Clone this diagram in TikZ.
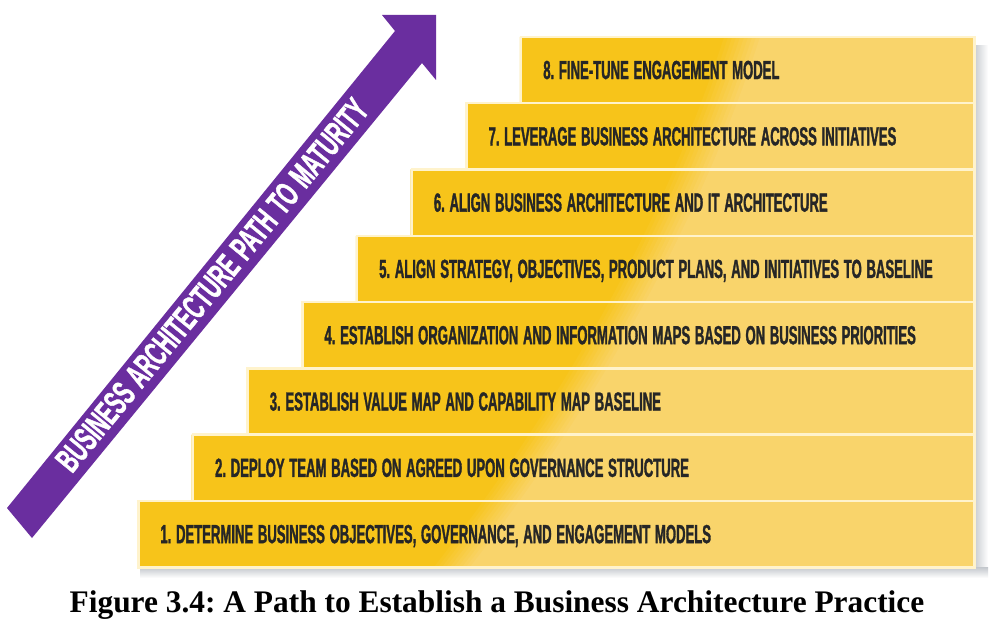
\documentclass[tikz,border=0pt]{standalone}
\usepackage{fontspec}
\setmainfont{Liberation Serif}
\newfontfamily\stepfont[FakeStretch=0.5,WordSpace=1.3,FakeBold=1.2]{Liberation Sans Bold}
\newfontfamily\pathfont[FakeStretch=0.575,WordSpace=1.3,FakeBold=1.2]{Liberation Sans Bold}
\newfontfamily\capfont{Liberation Serif Bold}
\definecolor{stairdeep}{HTML}{F7C41A}
\definecolor{stairlight}{HTML}{F9D46B}
\definecolor{stairedge}{HTML}{FFF3CC}
\definecolor{inkdark}{HTML}{262626}
\definecolor{pathpurple}{HTML}{6A2E9F}
\definecolor{shadowgray}{HTML}{C3C7CC}
\frenchspacing

\begin{document}
\begin{tikzpicture}[x=0.5pt,y=-0.5pt,
  stepbox/.style={draw=stairedge, line width=1.25pt, anchor=west, inner sep=0pt},
  steptext/.style={anchor=west, inner sep=0pt, text height=9pt, text depth=0pt,
    text=inkdark, font=\stepfont\fontsize{13.1}{13.1}\selectfont},
  pathlabel/.style={text=white, inner sep=0pt, text height=12pt, text depth=0pt,
    font=\pathfont\fontsize{17.4}{17.4}\selectfont},
  figcaption/.style={anchor=base, inner sep=0pt, text=black,
    font=\capfont\fontsize{15.7}{15.7}\selectfont}]

% canvas
\fill[white] (0,0) rectangle (1000,630);
\useasboundingbox (0,0) rectangle (1000,630);

% soft drop shadow along the right and bottom of the staircase
\shade[left color=shadowgray, right color=white] (973,46) rectangle (988,578);
\shade[top color=shadowgray, bottom color=white] (140,567) rectangle (988,578);

% staircase body: deep yellow on the left, lighter yellow on the right
\begin{scope}
  \clip \foreach \i in {0,...,7} { ({137+54.7*\i},{501-66.3*\i}) rectangle (973,{567.3-66.3*\i}) };
  \fill[stairdeep] (100,20) rectangle (1000,600);
  \foreach \k in {1,...,10} {
    \pgfmathsetmacro\d{-20+4*\k}
    \pgfmathtruncatemacro\mix{100-10*\k}
    \fill[stairdeep!\mix!stairlight]
      ({745+\d},20) -- ({740+\d},37) .. controls ({683+\d},214) and ({587+\d},390) ..
      ({450+\d},567) -- ({445+\d},580) -- (1000,580) -- (1000,20) -- cycle;
  }
\end{scope}

% the eight steps, each with its label
\foreach \i/\txt in {
  1/{1. DETERMINE BUSINESS OBJECTIVES, GOVERNANCE, AND ENGAGEMENT MODELS},
  2/{2. DEPLOY TEAM BASED ON AGREED UPON GOVERNANCE STRUCTURE},
  3/{3. ESTABLISH VALUE MAP AND CAPABILITY MAP BASELINE},
  4/{4. ESTABLISH ORGANIZATION AND INFORMATION MAPS BASED ON BUSINESS PRIORITIES},
  5/{5. ALIGN STRATEGY, OBJECTIVES, PRODUCT PLANS, AND INITIATIVES TO BASELINE},
  6/{6. ALIGN BUSINESS ARCHITECTURE AND IT ARCHITECTURE},
  7/{7. LEVERAGE BUSINESS ARCHITECTURE ACROSS INITIATIVES},
  8/{8. FINE-TUNE ENGAGEMENT MODEL}} {
  \pgfmathsetmacro\lx{137+54.7*(\i-1)}
  \pgfmathsetmacro\cy{501-66.3*(\i-1)+33.15}
  \pgfmathsetmacro\w{(973-\lx)*0.5}
  \node[stepbox, minimum width=\w pt, minimum height=33.15pt] (s\i) at (\lx,\cy) {};
  \node[steptext] (t\i) at ([xshift=11.5pt]s\i.west) {\txt};
}

% rising arrow
\fill[pathpurple] (7,508) -- (395,31) -- (382,15) -- (436,15) -- (436,80)
  -- (422,63) -- (32,538) -- cycle;
\node[pathlabel, rotate=50.6] (pathtext) at (212,285)
  {BUSINESS ARCHITECTURE PATH TO MATURITY};

% caption
\node[figcaption] (caption) at (497,612)
  {Figure 3.4: A Path to Establish a Business Architecture Practice};
\end{tikzpicture}
\end{document}
